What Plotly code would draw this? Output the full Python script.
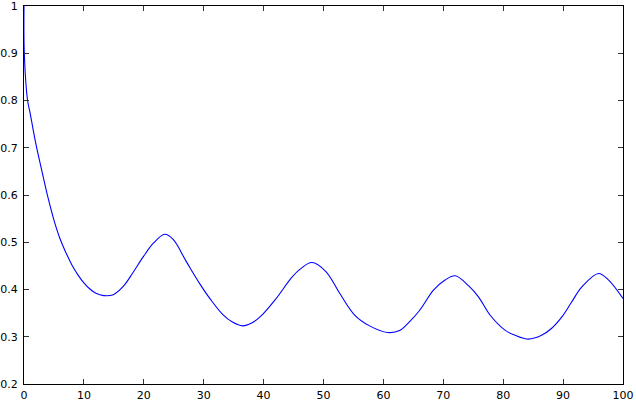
import plotly.graph_objects as go

x_vals = [0, 0.05, 0.6, 1.0, 1.5, 2.0, 3.0, 4.0, 5.0, 6.0, 7.0, 8.0, 9.0, 10.0, 11.0, 12.0,
          13.3, 14.9, 16.6, 18.2, 19.9, 21.6, 23.5, 24.9, 27.1, 29.3, 31.2, 33.2, 34.8, 36.5,
          38.0, 39.5, 42.1, 44.6, 46.0, 48.06, 50.4, 52.7, 55.2, 57.7, 60.7, 62.7, 64.3, 66.0,
          68.4, 70.3, 72.0, 74.2, 75.9, 77.8, 80.3, 82.0, 84.2, 86.4, 88.1, 89.8, 91.4, 93.1,
          95.9, 97.6, 100]
y_vals = [1.0, 0.9, 0.80, 0.775, 0.74, 0.707, 0.65, 0.595, 0.547, 0.508, 0.478, 0.452, 0.431,
          0.414, 0.401, 0.392, 0.387, 0.389, 0.407, 0.436, 0.469, 0.498, 0.517, 0.506, 0.459,
          0.413, 0.378, 0.347, 0.331, 0.323, 0.329, 0.343, 0.381, 0.424, 0.442, 0.457, 0.438,
          0.392, 0.346, 0.323, 0.309, 0.313, 0.331, 0.355, 0.399, 0.42, 0.429, 0.408, 0.384,
          0.346, 0.314, 0.303, 0.295, 0.303, 0.318, 0.342, 0.373, 0.405, 0.434, 0.42, 0.381]

x_ticks = [0, 10, 20, 30, 40, 50, 60, 70, 80, 90, 100]
y_ticks = [0.2, 0.3, 0.4, 0.5, 0.6, 0.7, 0.8, 0.9, 1]
y_tick_labels = ["0.2", "0.3", "0.4", "0.5", "0.6", "0.7", "0.8", "0.9", "1"]

fig = go.Figure()
fig.add_trace(go.Scatter(x=x_vals, y=y_vals, mode="lines",
                         line=dict(color="#0000ff", width=1.1, shape="spline", smoothing=1.0),
                         hoverinfo="skip"))

axis_common = dict(showgrid=False, zeroline=False, showline=True, linecolor="black",
                   linewidth=1, mirror="allticks", ticks="inside", ticklen=5,
                   tickcolor="#333333", tickwidth=1, automargin=False,
                   ticklabeloverflow="allow",
                   tickfont=dict(family="DejaVu Sans, sans-serif", size=11, color="black"))

fig.update_xaxes(range=[0, 100], tickvals=x_ticks, ticktext=[str(t) for t in x_ticks],
                 ticklabelstandoff=1, **axis_common)
fig.update_yaxes(range=[0.2, 1], tickvals=y_ticks, ticktext=y_tick_labels,
                 ticklabelstandoff=3, **axis_common)

fig.update_layout(width=636, height=402, margin=dict(l=24, r=13, t=6, b=18),
                  plot_bgcolor="white", paper_bgcolor="white", showlegend=False)

fig.write_html("out.html", config={"displayModeBar": False})

with open("out.html", "r", encoding="utf-8") as f:
    html = f.read()
html = html.replace("<head>", "<head><style>html,body{margin:0;padding:0;overflow:hidden;}</style>", 1)
with open("out.html", "w", encoding="utf-8") as f:
    f.write(html)
